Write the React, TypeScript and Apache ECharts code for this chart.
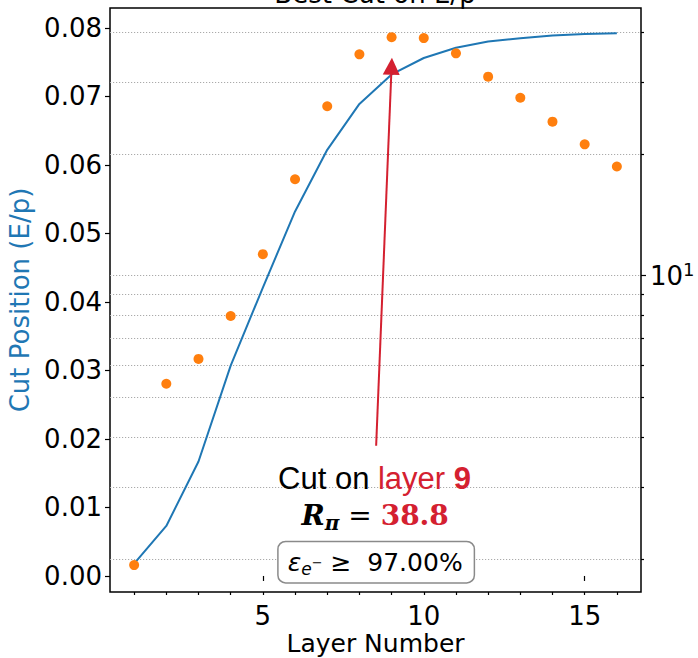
import React, { useEffect, useRef } from 'react';
import * as echarts from 'echarts';

// ---------- data ----------
const layers = [1, 2, 3, 4, 5, 6, 7, 8, 9, 10, 11, 12, 13, 14, 15, 16];
const cutPosition = [0.0018, 0.0073, 0.0167, 0.0307, 0.0421, 0.0532, 0.0622, 0.0689, 0.0732, 0.0756, 0.0771, 0.078, 0.0785, 0.0789, 0.0791, 0.0792];
const pionRejection = [1.93, 5.41, 6.23, 7.95, 11.3, 17.3, 26.2, 35.2, 38.8, 38.6, 35.4, 31.0, 27.5, 24.0, 21.1, 18.6];

const leftTicks = [0, 0.01, 0.02, 0.03, 0.04, 0.05, 0.06, 0.07, 0.08];
const xMajorTicks = [5, 10, 15];
const rightMajorTicks = [10];
const rightMinorTicks = [2, 3, 4, 5, 6, 7, 8, 9, 20, 30, 40];

const xRange = [0.25, 16.75];
const leftRange = [-0.00234, 0.0829];
const rightRange = [1.656, 45.8];

const bestLayer = 9;
const bestRejection = 38.8;
const electronEff = '97.00%';
const arrowTail = [8.52, 0.019];
const arrowHead = [9, 0.0744];
const line1Pos = [8.47, 0.01423];
const line2Pos = [8.49, 0.0088];
const line3Pos = [8.52, 0.00202];

const titleText = 'Best Cut on E/p';

// ---------- styles ----------
const FONT = 'DejaVu Sans';
const BLUE = '#1f77b4';
const ORANGE = '#ff7f0e';
const RED = '#d42030';
const GRID = { color: '#aaaaaa', width: 1, type: [1.2, 1.8] as any };
const TICK = { color: '#000', width: 1.2 };
const FS = 26;

const log10 = (v: number) => Math.log10(v);

function buildOption(): any {
  const logMin = log10(rightRange[0]);
  const logMax = log10(rightRange[1]);
  return {
    animation: false,
    grid: {
      left: 110,
      right: 57,
      top: 8,
      bottom: 66,
      show: true,
      borderColor: '#000',
      borderWidth: 1.5,
      backgroundColor: 'transparent',
      outerBoundsMode: 'none',
    },
    graphic: [
      {
        type: 'text',
        x: 375,
        y: 7,
        style: {
          text: titleText,
          fontSize: 26,
          fontFamily: FONT,
          fill: '#000',
          align: 'center',
          verticalAlign: 'bottom',
        },
      },
    ],
    xAxis: [
      {
        type: 'value',
        position: 'bottom',
        min: xRange[0],
        max: xRange[1],
        name: 'Layer Number',
        nameLocation: 'middle',
        nameGap: 40,
        nameMoveOverlap: false,
        nameTextStyle: { fontFamily: FONT, fontSize: 25, color: '#000', lineHeight: 22 },
        axisLine: { show: false },
        axisTick: { show: true, length: 5, customValues: xMajorTicks, lineStyle: TICK },
        axisLabel: {
          customValues: xMajorTicks,
          margin: 11,
          fontFamily: FONT,
          fontSize: FS,
          color: '#000',
        },
        splitLine: { show: false },
      },
      {
        type: 'value',
        position: 'bottom',
        min: xRange[0],
        max: xRange[1],
        axisLine: { show: false },
        axisTick: { show: true, length: 3, customValues: layers, lineStyle: TICK },
        axisLabel: { show: false },
        splitLine: { show: false },
      },
    ],
    yAxis: [
      {
        type: 'value',
        position: 'left',
        min: leftRange[0],
        max: leftRange[1],
        name: 'Cut Position (E/p)',
        nameLocation: 'middle',
        nameGap: 73,
        nameTextStyle: { fontFamily: FONT, fontSize: FS, color: BLUE },
        axisLine: { show: false },
        axisTick: { show: true, length: 5, customValues: leftTicks, lineStyle: TICK },
        axisLabel: {
          customValues: leftTicks,
          formatter: (v: number) => v.toFixed(2),
          margin: 8,
          fontFamily: FONT,
          fontSize: FS,
          color: '#000',
        },
        splitLine: { show: false },
      },
      {
        type: 'value',
        position: 'right',
        min: logMin,
        max: logMax,
        axisLine: { show: false },
        axisTick: { show: true, length: 5, customValues: rightMajorTicks.map(log10), lineStyle: TICK },
        axisLabel: {
          customValues: rightMajorTicks.map(log10),
          formatter: (v: number) => `{a|10}{b|${Math.round(v)}}`,
          margin: 9,
          rich: {
            a: { fontFamily: FONT, fontSize: FS, color: '#000', lineHeight: 30 },
            b: { fontFamily: FONT, fontSize: 18, color: '#000', lineHeight: 19, verticalAlign: 'top' },
          },
        },
        splitLine: { show: true, lineStyle: GRID },
      },
      {
        type: 'value',
        position: 'right',
        min: logMin,
        max: logMax,
        axisLine: { show: false },
        axisTick: { show: true, length: 3, customValues: rightMinorTicks.map(log10), lineStyle: TICK },
        axisLabel: { show: false },
        splitLine: { show: true, lineStyle: GRID },
      },
    ],
    series: [
      {
        type: 'line',
        name: 'Cut Position',
        xAxisIndex: 0,
        yAxisIndex: 0,
        data: layers.map((l, i) => [l, cutPosition[i]]),
        showSymbol: false,
        symbol: 'none',
        lineStyle: { color: BLUE, width: 2 },
        itemStyle: { color: BLUE },
        z: 3,
        markLine: {
          silent: true,
          animation: false,
          symbol: ['none', 'triangle'],
          symbolSize: 17,
          label: { show: false },
          lineStyle: { color: RED, width: 2, type: 'solid' },
          emphasis: { disabled: true },
          data: [[{ coord: arrowTail }, { coord: arrowHead }]],
        },
        markPoint: {
          silent: true,
          animation: false,
          symbol: 'circle',
          symbolSize: 1,
          itemStyle: { color: 'transparent' },
          data: [
            {
              coord: line1Pos,
              label: {
                show: true,
                position: 'inside',
                formatter: `{k|Cut on }{r|layer }{rb|${bestLayer}}`,
                rich: {
                  k: { fontFamily: 'Liberation Sans', fontSize: 31, color: '#000' },
                  r: { fontFamily: 'Liberation Sans', fontSize: 31, color: RED },
                  rb: { fontFamily: 'Liberation Sans', fontSize: 31, color: RED, fontWeight: 'bold' },
                },
              },
            },
            {
              coord: line2Pos,
              label: {
                show: true,
                position: 'inside',
                formatter: `{R|R}{pi|π}{eq| = }{num|${bestRejection.toFixed(1)}}`,
                rich: {
                  R: { fontFamily: 'DejaVu Serif', fontSize: 28, fontWeight: 'bold', fontStyle: 'italic', color: '#000', lineHeight: 34 },
                  pi: { fontFamily: 'DejaVu Serif', fontSize: 20, fontWeight: 'bold', fontStyle: 'italic', color: '#000', lineHeight: 13, verticalAlign: 'bottom' },
                  eq: { fontFamily: 'DejaVu Sans', fontSize: 28, color: '#000', lineHeight: 34 },
                  num: { fontFamily: 'DejaVu Serif', fontSize: 28, fontWeight: 'bold', color: RED, lineHeight: 34 },
                },
              },
            },
            {
              coord: line3Pos,
              label: {
                show: true,
                position: 'inside',
                formatter: `{eps|ε}{sub|e}{sup|−}{t| ≥  ${electronEff}}`,
                backgroundColor: '#fff',
                borderColor: '#8a8a8a',
                borderWidth: 1.5,
                borderRadius: 7,
                padding: [5, 11, 5, 9],
                rich: {
                  eps: { fontFamily: FONT, fontSize: 25, fontStyle: 'italic', color: '#000', lineHeight: 30 },
                  sub: { fontFamily: FONT, fontSize: 17, fontStyle: 'italic', color: '#000', lineHeight: 14, verticalAlign: 'bottom' },
                  sup: { fontFamily: FONT, fontSize: 13, color: '#000', lineHeight: 30 },
                  t: { fontFamily: FONT, fontSize: 25, color: '#000', lineHeight: 30 },
                },
              },
            },
          ],
        },
      },
      {
        type: 'scatter',
        name: 'Pion Rejection',
        xAxisIndex: 0,
        yAxisIndex: 1,
        data: layers.map((l, i) => [l, log10(pionRejection[i])]),
        symbol: 'circle',
        symbolSize: 10,
        itemStyle: { color: ORANGE, opacity: 1 },
        z: 4,
      },
    ],
  };
}

export default function App() {
  const ref = useRef<HTMLDivElement>(null);
  useEffect(() => {
    document.body.style.margin = '0';
    if (!ref.current) return;
    const chart = echarts.init(ref.current, null, { renderer: 'svg' });
    chart.setOption(buildOption());
    return () => {
      chart.dispose();
    };
  }, []);
  return (
    <div
      ref={ref}
      style={{ position: 'absolute', left: 0, top: 0, width: 698, height: 658, background: '#fff' }}
    />
  );
}
